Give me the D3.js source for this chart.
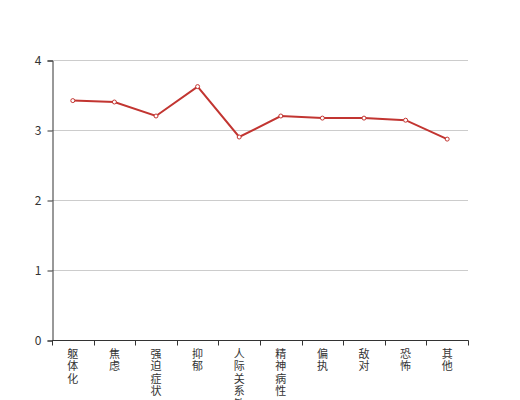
<!DOCTYPE html>
<html>
<head>
<meta charset="utf-8">
<script src="https://cdn.jsdelivr.net/npm/d3@7"></script>
<style>
  body { margin: 0; background: #fff; }
  text { font-family: "Noto Sans CJK SC", sans-serif; }
</style>
</head>
<body>
<svg></svg>
<script>
const categories = ['躯体化', '焦虑', '强迫症状', '抑郁', '人际关系敏感', '精神病性', '偏执', '敌对', '恐怖', '其他'];
const values = [3.42, 3.40, 3.20, 3.62, 2.90, 3.20, 3.17, 3.17, 3.14, 2.87];
const yTicks = [0, 1, 2, 3, 4];

const width = 520;
const height = 400;
const margin = { top: 60, right: 52, bottom: 60, left: 52 };
const innerWidth = width - margin.left - margin.right;
const innerHeight = height - margin.top - margin.bottom;

const svg = d3.select('svg')
  .attr('width', width)
  .attr('height', height);

const g = svg.append('g')
  .attr('transform', `translate(${margin.left},${margin.top})`);

const x = d3.scaleBand().domain(categories).range([0, innerWidth]);
const y = d3.scaleLinear().domain([0, 4]).range([innerHeight, 0]);

// grid lines
g.selectAll('.grid')
  .data(yTicks.filter(d => d > 0))
  .enter()
  .append('line')
  .attr('x1', 0)
  .attr('x2', innerWidth)
  .attr('y1', d => y(d) + 0.5)
  .attr('y2', d => y(d) + 0.5)
  .attr('stroke', '#ccc');

// y axis
const yAxis = g.append('g')
  .attr('transform', 'translate(0.5,0.5)')
  .call(d3.axisLeft(y).tickValues(yTicks).tickSize(5).tickPadding(6).tickFormat(d3.format('d')));
yAxis.select('.domain').attr('stroke', '#333');
yAxis.selectAll('.tick line').attr('stroke', '#333');
yAxis.selectAll('text').attr('fill', '#333').style('font-size', '12px');

// x axis
const xAxisG = g.append('g')
  .attr('transform', `translate(0,${innerHeight + 0.5})`);
xAxisG.append('line')
  .attr('x1', 0).attr('x2', innerWidth + 0.5)
  .attr('stroke', '#333');
const bounds = categories.map(c => x(c)).concat([innerWidth]);
xAxisG.selectAll('.xtick')
  .data(bounds)
  .enter()
  .append('line')
  .attr('x1', d => Math.round(d) + 0.5)
  .attr('x2', d => Math.round(d) + 0.5)
  .attr('y1', 0)
  .attr('y2', 5)
  .attr('stroke', '#333');

// vertical labels, one character per line
const labels = xAxisG.selectAll('.xlabel')
  .data(categories)
  .enter()
  .append('text')
  .attr('text-anchor', 'middle')
  .attr('fill', '#333')
  .style('font-size', '11px');
labels.each(function (d) {
  const t = d3.select(this);
  Array.from(d).forEach((ch, i) => {
    t.append('tspan')
      .attr('x', x(d) + x.bandwidth() / 2)
      .attr('y', 17 + i * 12.5)
      .text(ch);
  });
});

// line
const line = d3.line()
  .x((d, i) => x(categories[i]) + x.bandwidth() / 2)
  .y(d => y(d));

g.append('path')
  .datum(values)
  .attr('d', line)
  .attr('fill', 'none')
  .attr('stroke', '#c23531')
  .attr('stroke-width', 2);

g.selectAll('.dot')
  .data(values)
  .enter()
  .append('circle')
  .attr('cx', (d, i) => x(categories[i]) + x.bandwidth() / 2)
  .attr('cy', d => y(d))
  .attr('r', 2)
  .attr('fill', '#fff')
  .attr('stroke', '#c23531')
  .attr('stroke-width', 1);
</script>
</body>
</html>
